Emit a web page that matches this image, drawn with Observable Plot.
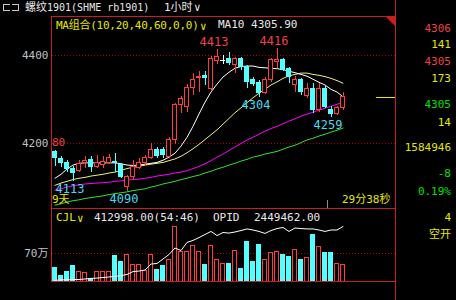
<!DOCTYPE html>
<html><head><meta charset="utf-8">
<script src="https://cdn.jsdelivr.net/npm/d3@7"></script>
<script src="https://cdn.jsdelivr.net/npm/@observablehq/plot@0.6"></script>
<style>
html,body{margin:0;padding:0;background:#000;}
#wrap{position:relative;width:456px;height:300px;background:#000;overflow:hidden;font-family:"DejaVu Sans Mono","Noto Sans CJK SC",monospace;font-size:11px;}
.abs{position:absolute;white-space:nowrap;line-height:14px;height:14px;}
.ln{position:absolute;background:#c81e1e;}
svg.layer{position:absolute;left:0;top:0;}
</style></head><body><div id="wrap"></div>
<script>
// ---- data ----
const open  = [4181,4164,4155,4143,4138,4155,4162,4147,4151,4156,4158,4151,4101,4123,4145,4155,4166,4186,4185,4170,4209,4287,4282,4327,4348,4353,4325,4388,4389,4393,4378,4391,4374,4344,4338,4315,4344,4385,4389,4370,4333,4344,4307,4323,4276,4325,4277,4268,4280];
const high  = [4184,4171,4162,4147,4162,4170,4171,4173,4170,4175,4178,4154,4128,4162,4166,4173,4201,4191,4191,4214,4292,4306,4335,4359,4363,4363,4398,4413,4400,4407,4396,4396,4378,4351,4344,4351,4394,4416,4394,4373,4353,4348,4336,4336,4336,4330,4283,4283,4317];
const low   = [4147,4145,4135,4113,4135,4144,4135,4143,4144,4152,4135,4120,4090,4119,4142,4151,4163,4167,4166,4167,4198,4269,4271,4310,4317,4332,4321,4380,4380,4378,4359,4367,4325,4330,4304,4312,4339,4371,4364,4337,4317,4310,4302,4268,4271,4280,4259,4264,4276];
const close = [4166,4156,4143,4132,4153,4160,4147,4156,4158,4166,4155,4123,4123,4147,4156,4166,4185,4171,4173,4209,4287,4302,4327,4345,4351,4350,4393,4397,4389,4382,4391,4374,4340,4336,4315,4344,4389,4389,4368,4351,4344,4317,4323,4276,4323,4283,4267,4280,4305];
const volume = [342000,150000,250000,400000,233000,217000,67000,250000,250000,250000,650000,500000,675000,425000,425000,275000,675000,300000,400000,550000,1375000,733000,733000,900000,733000,425000,900000,542000,442000,442000,775000,317000,983000,500000,925000,542000,717000,750000,675000,625000,792000,550000,592000,1175000,875000,725000,708000,442000,412998];
const opid = [2150000,2153000,2153000,2155000,2155000,2158000,2161000,2163000,2166000,2169000,2172000,2177000,2183000,2199000,2202000,2208000,2241000,2244000,2269000,2294000,2330000,2316000,2361000,2372000,2388000,2405000,2422000,2399000,2416000,2413000,2419000,2427000,2436000,2430000,2422000,2411000,2427000,2438000,2444000,2422000,2441000,2438000,2436000,2436000,2430000,2422000,2430000,2430000,2449462];
const ma10 = [4121,4130,4142,4151,4155,4156,4156,4156,4156,4156,4156,4154,4151,4150,4151,4153,4155,4157,4162,4169,4178,4194,4214,4239,4267,4294,4317,4335,4351,4362,4371,4375,4376,4376,4373,4372,4371,4370,4368,4364,4361,4357,4353,4346,4339,4333,4323,4317,4306];
const ma20 = [4105,4110,4114,4118,4121,4123,4126,4128,4130,4133,4135,4139,4143,4146,4148,4151,4153,4155,4157,4161,4165,4171,4179,4188,4198,4209,4220,4231,4244,4257,4270,4281,4293,4304,4314,4323,4333,4340,4348,4354,4357,4360,4360,4357,4355,4352,4348,4343,4337];
const ma40 = [4094,4097,4101,4104,4106,4108,4109,4110,4111,4112,4114,4115,4117,4118,4119,4121,4123,4126,4128,4130,4133,4135,4138,4143,4148,4154,4161,4169,4176,4184,4192,4200,4208,4214,4221,4228,4234,4239,4245,4251,4256,4262,4267,4271,4276,4280,4285,4289,4294];
const ma60 = [4060,4063,4067,4070,4072,4075,4077,4079,4081,4084,4086,4088,4090,4093,4095,4097,4101,4104,4108,4111,4114,4118,4121,4125,4128,4133,4137,4142,4146,4151,4155,4160,4164,4169,4172,4176,4179,4182,4187,4192,4196,4202,4208,4212,4217,4221,4226,4230,4235];
const priceTicks = [4200, 4400];
const volTicks = [700000];
const highIdx = [27, 37];
const lowIdx = [34, 46, 3, 12];
const sidePanel = ["4306","141","4305","173","4305","14","1584946","-8","0.19%","4","空开"];

// ---- styles ----
const RED = "#ff3c3c", CYAN = "#54ffff", GRID = "#b00000";
const YEL = "#e6e600", GRN = "#00e000", GRAY = "#c0c0c0";
const FONT = '"DejaVu Sans Mono","Noto Sans CJK SC",monospace';

const bars = close.map((c, i) => ({i, o: open[i], h: high[i], l: low[i], c, v: volume[i], oi: opid[i],
  dir: c > open[i] ? "up" : c < open[i] ? "down" : "flat"}));
const up = bars.filter(d => d.dir === "up");
const down = bars.filter(d => d.dir === "down");
const flat = bars.filter(d => d.dir === "flat");
const hw = 1/3;
const CR = "crispEdges";
const xScale = {type: "linear", domain: [-0.5, 56.5], range: [51.5, 393.5], axis: null};
const base = {width: 456, height: 300, marginLeft: 52, marginRight: 61,
  style: {background: "transparent", overflow: "visible", fontFamily: FONT, fontSize: "11px", color: GRAY}};
const priceY = {domain: [4200, 4400], range: [143, 55], axis: null};

const wrap = document.getElementById("wrap");

const pricePlot = Plot.plot({...base, marginTop: 17, marginBottom: 92,
  x: xScale, y: priceY,
  marks: [
    Plot.ruleY(priceTicks, {stroke: GRID, strokeDasharray: "1,2"}),
    Plot.axisY({ticks: priceTicks, tickSize: 0, tickPadding: 4, label: null, tickFormat: "d", fill: GRAY, fontSize: 11}),
    Plot.line(ma60, {x: (d, i) => i, y: d => d, stroke: "#30e030", strokeWidth: 1}),
    Plot.line(ma40, {x: (d, i) => i, y: d => d, stroke: "#ff00ff", strokeWidth: 1}),
    Plot.line(ma20, {x: (d, i) => i, y: d => d, stroke: "#f0f080", strokeWidth: 1}),
    Plot.line(ma10, {x: (d, i) => i, y: d => d, stroke: "#ffffff", strokeWidth: 1}),
    Plot.ruleX(up, {x: "i", y1: "l", y2: "h", stroke: RED, shapeRendering: CR}),
    Plot.ruleX(down, {x: "i", y1: "l", y2: "h", stroke: CYAN, shapeRendering: CR}),
    Plot.ruleX(flat, {x: "i", y1: "l", y2: "h", stroke: "#ffffff", shapeRendering: CR}),
    Plot.rect(up, {x1: d => d.i - hw, x2: d => d.i + hw, y1: "o", y2: "c", fill: "#000", stroke: RED, shapeRendering: CR}),
    Plot.rect(down, {x1: d => d.i - hw, x2: d => d.i + hw, y1: "o", y2: "c", fill: CYAN, stroke: CYAN, shapeRendering: CR}),
    Plot.ruleY(flat, {y: "o", x1: d => d.i - hw - 0.1, x2: d => d.i + hw + 0.1, stroke: "#ffffff", shapeRendering: CR}),
    Plot.text(highIdx, {x: d => d, y: d => high[d], text: d => String(high[d]), dx: -3, dy: -7.5, fill: "#f04040", fontSize: 12}),
    Plot.text(lowIdx, {x: d => d, y: d => low[d], text: d => String(low[d]), dx: -3, dy: 7.5, fill: "#48d8f0", fontSize: 12})
  ]
});

const volPlot = Plot.plot({...base, marginTop: 209, marginBottom: 19,
  x: xScale, y: {domain: [0, 700000], range: [281, 253], axis: null},
  marks: [
    Plot.ruleY(volTicks, {stroke: GRID, strokeDasharray: "1,2"}),
    Plot.axisY({ticks: volTicks, tickSize: 0, tickPadding: 4, label: null, tickFormat: d => d / 10000 + "万", fill: GRAY, fontSize: 11}),
    Plot.rect(bars.filter(d => d.dir !== "down"), {x1: d => d.i - hw, x2: d => d.i + hw, y1: 0, y2: "v", fill: "#000", stroke: RED, shapeRendering: CR}),
    Plot.rect(down, {x1: d => d.i - hw, x2: d => d.i + hw, y1: 0, y2: "v", fill: CYAN, stroke: CYAN, shapeRendering: CR})
  ]
});

const oiPlot = Plot.plot({...base, marginTop: 209, marginBottom: 19,
  x: xScale, y: {domain: [2149500, 2449462], range: [280, 226], axis: null},
  marks: [Plot.line(bars, {x: "i", y: "oi", stroke: "#ffffff", strokeWidth: 1})]
});

for (const p of [pricePlot, volPlot, oiPlot]) {
  p.classList.add("layer");
  wrap.appendChild(p);
}

// ---- frame lines ----
function ln(x, y, w, h, color) {
  const d = document.createElement("div"); d.className = "ln";
  d.style.left = x + "px"; d.style.top = y + "px"; d.style.width = w + "px"; d.style.height = h + "px";
  if (color) d.style.background = color; wrap.appendChild(d); return d;
}
ln(51, 16, 345, 1); ln(51, 16, 1, 266); ln(395, 0, 1, 300); ln(51, 208, 345, 1); ln(51, 281, 345, 1);
ln(327, 200, 1, 8, "#909090");
// last price marker
const yLast = pricePlot.scale("y").apply(close[close.length - 1]);
ln(376, Math.round(yLast), 19, 1, "#e6e600");
// corner triangle
const tri = document.createElementNS("http://www.w3.org/2000/svg", "svg");
tri.setAttribute("width", 10); tri.setAttribute("height", 10);
tri.style.position = "absolute"; tri.style.left = "386px"; tri.style.top = "17px";
tri.innerHTML = '<polygon points="0,0 9,0 9,9" fill="#c81e1e"/>';
wrap.appendChild(tri);
// window icon (two brackets)
function box(x, y, w, h, sides) {
  const d = document.createElement("div");
  d.style.position = "absolute"; d.style.left = x + "px"; d.style.top = y + "px";
  d.style.width = w + "px"; d.style.height = h + "px"; d.style.boxSizing = "border-box";
  d.style.border = "1px solid #c8c8c8"; for (const s of sides) d.style["border" + s] = "none";
  wrap.appendChild(d);
}
box(3, 4, 7, 7, ["Right"]); box(12, 4, 7, 7, ["Left"]);

// ---- texts ----
function txt(s, x, cy, color, right, size) {
  const d = document.createElement("div"); d.className = "abs"; d.textContent = s;
  if (right) d.style.right = (456 - x) + "px"; else d.style.left = x + "px";
  if (size) d.style.fontSize = size + "px";
  d.style.top = (cy - 7) + "px"; d.style.color = color; wrap.appendChild(d); return d;
}
txt("螺纹", 25, 8, "#e8e8e8");
txt("1901(SHME rb1901)", 47, 8, "#e8e8e8", false, 10);
txt("1小时", 164, 8, "#e8e8e8");
txt("∨", 194, 8, "#e8e8e8");
const maT = txt("MA组合(10,20,40,60,0,0)", 56, 25.5, YEL);
maT.style.letterSpacing = "-0.25px";
txt("∨", 200, 27, YEL);
txt("MA10 4305.90", 218, 25, "#e8e8e8");
txt("80", 52, 142.5, "#f04040");
const nine = txt("9天", 52, 200, YEL);
nine.style.lineHeight = "12px"; nine.style.height = "12px"; nine.style.top = "194px";
txt("29分38秒", 342, 200, YEL);
txt("CJL", 56, 218, YEL);
txt("∨", 77, 219, YEL);
txt("412998.00(54:46)", 94, 218, "#e8e8e8");
txt("OPID", 213, 218, "#e8e8e8");
txt("2449462.00", 254, 218, "#e8e8e8");
const sideY = [29, 45, 62, 79, 105, 122.5, 148, 174, 192, 218, 235];
const sideC = ["#f04040", YEL, "#f04040", YEL, GRN, YEL, YEL, GRN, GRN, YEL, YEL];
sidePanel.forEach((s, k) => txt(s, 451, sideY[k], sideC[k], true));
</script></body></html>
